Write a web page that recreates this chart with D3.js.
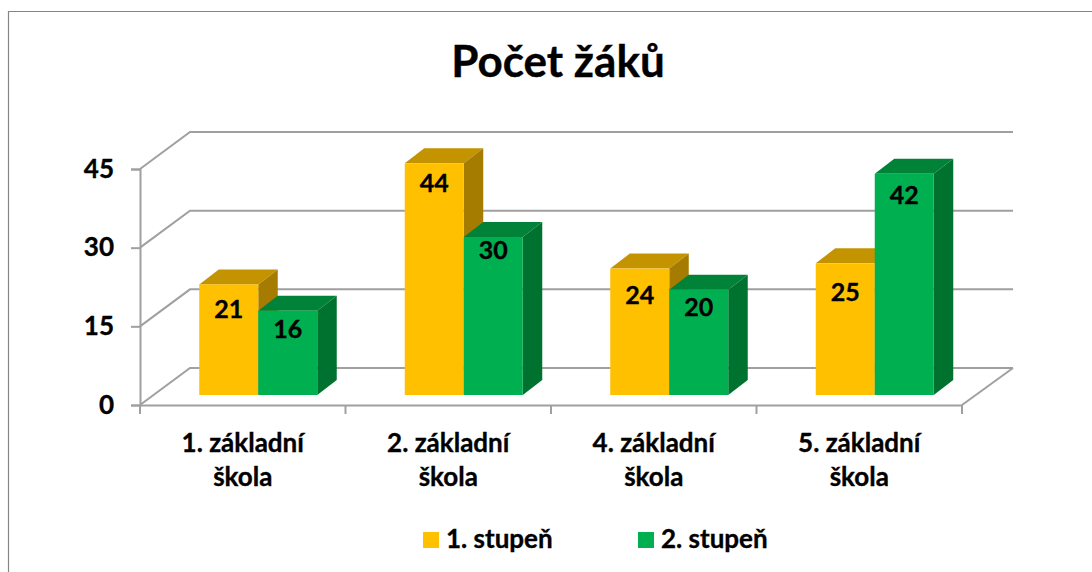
<!DOCTYPE html>
<html>
<head>
<meta charset="utf-8">
<script src="https://cdn.jsdelivr.net/npm/d3@7"></script>
<style>
  html, body { margin: 0; padding: 0; background: #fff; }
  svg { display: block; }
  text { font-family: Lato, "Open Sans", sans-serif; font-weight: 700; fill: #000; stroke: #000; stroke-width: 0.35; }
</style>
</head>
<body>
<div id="viz"></div>
<script>
var categories = ['1. základní škola', '2. základní škola', '4. základní škola', '5. základní škola'];
var seriesNames = ['1. stupeň', '2. stupeň'];
var stupen1 = [21, 44, 24, 25];
var stupen2 = [16, 30, 20, 42];
var yTicks = [0, 15, 30, 45];

var width = 1092;
var height = 572;

// colours per series: front, top, side
var colors = [
  {front: '#FFC000', top: '#C49300', side: '#A67C00'},
  {front: '#00B050', top: '#008339', side: '#00722F'}
];
var gridColor = '#A0A0A0';

// plot box, front edge of the floor
var plot = {left: 140, right: 962, top: 169, bottom: 405};
var wall = {dx: 50, dy: -37};       // back wall offset
var barPlane = {dx: 15.5, bottom: 395, top: 158}; // where the bars stand
var depth = {dx: 19.5, dy: -15};    // bar depth
var barWidth = 59;
// how far below the bar top each value label sits (as placed in the original)
var labelDrop = [[24, 17], [19, 12], [25, 16], [28, 20]];

var svg = d3.select('#viz').append('svg')
  .attr('width', width)
  .attr('height', height);

// outer frame, cropped on the right and bottom
svg.append('path')
  .attr('d', 'M8.5,' + height + 'V11.5H' + width)
  .attr('fill', 'none')
  .attr('stroke', '#868686')
  .attr('stroke-width', 1.2);

svg.append('text')
  .attr('x', 558)
  .attr('y', 77)
  .attr('text-anchor', 'middle')
  .attr('font-size', 44)
  .text('Počet žáků');

var yAxisScale = d3.scaleLinear().domain([0, 45]).range([plot.bottom, plot.top]);
var yBar = d3.scaleLinear().domain([0, 45]).range([barPlane.bottom, barPlane.top]);
var x0 = d3.scaleBand().domain(categories).range([plot.left, plot.right]);
var x1 = d3.scaleBand().domain([0, 1]).range([0, barWidth * 2]);

// walls and grid
var grid = svg.append('g')
  .attr('fill', 'none')
  .attr('stroke', gridColor)
  .attr('stroke-width', 2);

grid.selectAll('.back').data(yTicks).enter().append('path')
  .attr('class', 'back')
  .attr('d', function(d) {
    var y = yAxisScale(d);
    return 'M' + plot.left + ',' + y + 'L' + (plot.left + wall.dx) + ',' + (y + wall.dy) + 'H' + (plot.right + wall.dx + 1);
  });

grid.append('path')
  .attr('d', 'M' + plot.right + ',' + plot.bottom + 'L' + (plot.right + wall.dx + 1) + ',' + (plot.bottom + wall.dy));

// y axis
var yAxis = svg.append('g')
  .attr('transform', 'translate(' + plot.left + ',0)')
  .call(d3.axisLeft(yAxisScale).tickValues(yTicks).tickSize(9).tickPadding(17).tickFormat(d3.format('d')));
yAxis.select('.domain').attr('stroke', gridColor).attr('stroke-width', 2);
yAxis.selectAll('.tick line').attr('stroke', gridColor).attr('stroke-width', 2);
yAxis.selectAll('.tick text').attr('font-size', 26);
yAxis.attr('font-family', null);

// x axis: ticks between the categories, labels centered in the band
var xAxis = svg.append('g')
  .attr('transform', 'translate(0,' + plot.bottom + ')')
  .call(d3.axisBottom(x0).tickSize(0).tickPadding(0));
xAxis.attr('font-family', null);
xAxis.select('.domain').attr('stroke', gridColor).attr('stroke-width', 2);
xAxis.selectAll('.tick text').each(function(d) {
  var words = d.split(' ');
  var t = d3.select(this).text(null).attr('font-size', 26).attr('y', 0).attr('dy', null);
  t.append('tspan').attr('x', 0).attr('y', 47).text(words[0] + ' ' + words[1]);
  t.append('tspan').attr('x', 0).attr('y', 81).text(words[2]);
});
xAxis.selectAll('.edge').data(d3.range(categories.length + 1)).enter().append('line')
  .attr('class', 'edge')
  .attr('x1', function(i) { return plot.left + i * x0.step(); })
  .attr('x2', function(i) { return plot.left + i * x0.step(); })
  .attr('y1', 0)
  .attr('y2', 9)
  .attr('stroke', gridColor)
  .attr('stroke-width', 2);

// bars
var rows = categories.map(function(c, i) {
  return {cat: c, idx: i, vals: [stupen1[i], stupen2[i]]};
});

function barX(row, s) {
  var pad = (x0.bandwidth() - barWidth * 2) / 2;
  return x0(row.cat) + barPlane.dx + pad + x1(s);
}

var groups = svg.selectAll('.group').data(rows).enter().append('g').attr('class', 'group');

[0, 1].forEach(function(s) {
  var bars = groups.append('g');

  // top face
  bars.append('path')
    .attr('fill', colors[s].top)
    .attr('d', function(r) {
      var x = barX(r, s), y = yBar(r.vals[s]);
      return 'M' + x + ',' + y + 'l' + depth.dx + ',' + depth.dy + 'h' + barWidth + 'l' + (-depth.dx) + ',' + (-depth.dy) + 'Z';
    });

  // side face
  bars.append('path')
    .attr('fill', colors[s].side)
    .attr('d', function(r) {
      var x = barX(r, s) + barWidth, y = yBar(r.vals[s]);
      return 'M' + x + ',' + y + 'l' + depth.dx + ',' + depth.dy + 'V' + (yBar(0) + depth.dy) + 'L' + x + ',' + yBar(0) + 'Z';
    });

  // front face
  bars.append('rect')
    .attr('fill', colors[s].front)
    .attr('x', function(r) { return barX(r, s); })
    .attr('y', function(r) { return yBar(r.vals[s]); })
    .attr('width', barWidth)
    .attr('height', function(r) { return yBar(0) - yBar(r.vals[s]); });

  bars.append('text')
    .attr('text-anchor', 'middle')
    .attr('dominant-baseline', 'central')
    .attr('font-size', 25)
    .attr('x', function(r) { return barX(r, s) + barWidth / 2; })
    .attr('y', function(r) { return yBar(r.vals[s]) + labelDrop[r.idx][s]; })
    .text(function(r) { return r.vals[s]; });
});

// legend
var legendX = d3.scaleOrdinal().domain(seriesNames).range([423, 638]);
var legend = svg.selectAll('.legend').data(seriesNames).enter().append('g')
  .attr('class', 'legend')
  .attr('transform', function(d) { return 'translate(' + legendX(d) + ',532)'; });
legend.append('rect')
  .attr('width', 16)
  .attr('height', 16)
  .attr('fill', function(d, i) { return colors[i].front; })
  .attr('stroke', 'none');
legend.append('text')
  .attr('x', 23)
  .attr('y', 16)
  .attr('font-size', 26)
  .text(function(d) { return d; });
</script>
</body>
</html>
